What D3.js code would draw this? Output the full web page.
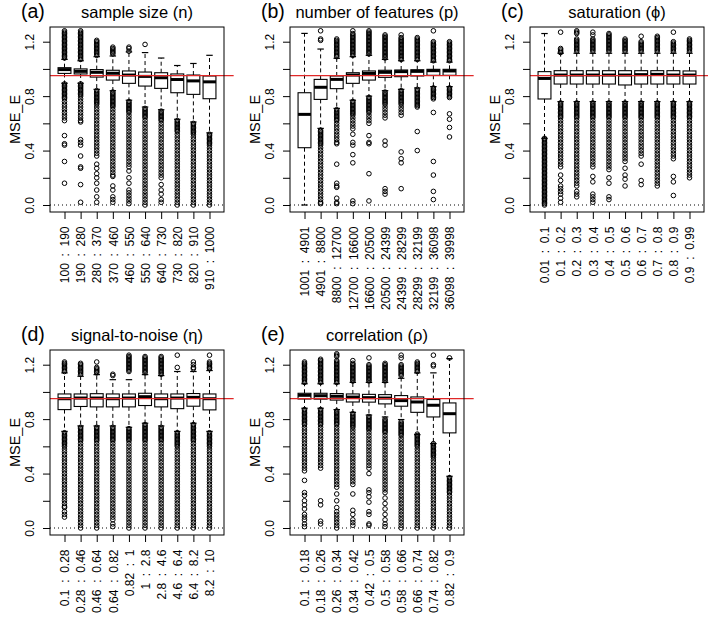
<!DOCTYPE html>
<html><head><meta charset="utf-8">
<script src="https://cdn.jsdelivr.net/npm/d3@7/dist/d3.min.js"></script>
<style>
body{margin:0;background:#fff}
svg{display:block}
text{font-family:"Liberation Sans",Arial,Helvetica,sans-serif}
</style>
</head><body>
<svg id="chart" width="708" height="622"></svg>
<script>
// ---------- DATA ----------
// Box statistics per box: [lower whisker, Q1, median, Q3, upper whisker]
// Outliers are listed in hundredths of MSE_E.
const aLabels = ["100 : 190","190 : 280","280 : 370","370 : 460","460 : 550","550 : 640","640 : 730","730 : 820","820 : 910","910 : 1000"];
const aStats = [[0.895,0.967,0.995,1.009,1.07],[0.895,0.963,0.982,1.0,1.06],[0.85,0.94,0.975,0.995,1.09],[0.84,0.918,0.968,0.99,1.095],[0.77,0.894,0.955,0.985,1.125],[0.72,0.874,0.945,0.977,1.12],[0.70,0.857,0.935,0.972,1.08],[0.63,0.825,0.922,0.963,1.025],[0.61,0.813,0.912,0.955,1.04],[0.53,0.781,0.905,0.948,1.10]];
const aOut = [
[128,127,126,125,124,123,122,121,120,119,118,117,116,115,114,113,112,111,110,109,108,89,88,87,86,85,84,83,82,81,80,79,78,76,74,72,70,68,66,64,62,51,45,44,32,16],
[128,127,126,125,124,123,122,121,120,119,118,117,116,115,114,113,112,111,110,109,108,107,89,88,87,86,85,84,83,82,81,80,78,76,74,72,70,68,66,64,62,61,48,46,44,36,28,27,15,2],
[121,120,119,118,117,116,115,114,113,112,111,110,84,83,82,81,80,79,78,77,76,75,74,72,70,68,66,64,62,60,58,56,54,52,50,48,46,44,42,40,38,36,30,27,23,20,16,11,6,2],
[116,115,114,113,112,111,83,82,81,80,79,78,77,76,75,74,73,72,70,68,66,64,62,60,58,56,54,52,50,48,46,44,42,40,38,36,34,32,30,28,26,24,22,21,14,11,6,4,2],
[116,115,113,76,75,74,73,72,71,70,69,68,66,64,62,60,58,56,54,52,50,48,46,44,42,40,38,36,34,32,30,28,25,20,16,11,9,7,5,3,1],
[118,71,70,69,68,67,66,65,64,62,60,58,56,54,52,50,48,46,44,42,40,38,36,34,32,30,28,26,24,22,20,18,16,14,12,10,8,6,4,2,0],
[69,68,67,66,65,64,63,62,60,58,56,54,52,50,48,46,44,42,40,38,36,34,32,30,28,26,24,22,20,15,11,8,4,2],
[62,61,60,59,58,57,56,55,54,52,50,48,46,44,42,40,38,36,34,32,30,28,26,24,22,20,18,16,14,12,10,8,6,4,2,0],
[60,59,58,57,56,55,54,53,52,50,48,46,44,42,40,38,36,34,32,30,28,26,24,22,20,18,16,14,12,10,8,6,4,2,0],
[52,51,50,49,48,47,46,45,44,42,40,38,36,34,32,30,28,26,24,22,20,18,16,14,12,10,8,6,4,2,0]];

const bLabels = ["1001 : 4901","4901 : 8800","8800 : 12700","12700 : 16600","16600 : 20500","20500 : 24399","24399 : 28299","28299 : 32199","32199 : 36098","36098 : 39998"];
const bStats = [[0.0,0.421,0.666,0.825,1.261],[0.563,0.776,0.865,0.923,1.146],[0.71,0.855,0.923,0.948,1.078],[0.77,0.894,0.955,0.972,1.09],[0.8,0.918,0.967,0.985,1.1],[0.84,0.938,0.975,0.99,1.07],[0.85,0.943,0.98,0.992,1.06],[0.86,0.948,0.982,0.994,1.06],[0.87,0.953,0.987,0.997,1.05],[0.87,0.953,0.985,0.997,1.05]];
const bOut = [
[],
[128,122,121,55,54,53,52,51,50,49,48,47,46,45,44,42,40,38,36,34,32,30,28,26,24,22,20,18,16,14,12,10,8,6,4,2,1],
[122,121,120,119,118,117,116,115,114,113,112,111,110,109,70,69,68,67,66,65,64,63,62,60,58,56,54,52,50,48,46,45,30,16,14,13,5,2,1],
[128,126,125,124,123,122,121,120,119,118,117,116,115,114,113,112,111,110,76,75,74,73,72,71,70,69,68,67,66,64,62,60,58,56,52,46,44,37,31,3,1],
[128,127,126,125,124,123,122,121,120,119,118,117,116,115,114,113,112,111,79,78,77,76,75,74,73,72,71,70,69,68,66,64,62,60,51,46,45,23,3],
[125,124,123,122,121,120,119,118,117,116,115,114,113,112,111,110,109,108,83,82,81,80,79,78,77,76,75,74,72,70,68,66,64,47,44,12,10,8],
[125,123,122,121,120,119,118,117,116,115,114,113,112,111,110,109,108,107,84,83,82,81,80,79,78,77,76,75,74,72,70,68,66,39,34,31,12],
[123,122,121,120,119,118,117,116,115,114,113,112,111,110,109,108,107,85,84,83,82,81,80,79,78,77,76,75,74,73,72,54,40],
[128,120,119,118,117,116,115,114,113,112,111,110,109,108,107,106,86,85,84,83,82,81,80,79,78,68,32,22,10,4],
[120,119,118,117,116,115,114,113,112,111,110,109,108,107,106,86,85,84,83,82,81,80,79,67,63,57,50]];

const cLabels = ["0.01 : 0.1","0.1 : 0.2","0.2 : 0.3","0.3 : 0.4","0.4 : 0.5","0.5 : 0.6","0.6 : 0.7","0.7 : 0.8","0.8 : 0.9","0.9 : 0.99"];
const cStats = [[0.49,0.779,0.93,0.98,1.26],[0.76,0.889,0.955,0.987,1.115],[0.76,0.889,0.955,0.987,1.115],[0.76,0.889,0.955,0.987,1.115],[0.76,0.889,0.955,0.987,1.115],[0.76,0.882,0.955,0.987,1.115],[0.76,0.889,0.958,0.987,1.115],[0.76,0.889,0.96,0.987,1.115],[0.76,0.889,0.955,0.987,1.115],[0.76,0.889,0.955,0.985,1.115]];
const cOut = [
[49,48,47,46,45,44,43,42,41,40,39,38,37,36,35,34,33,32,31,30,29,28,27,26,25,24,23,22,21,20,19,18,17,16,15,14,13,12,11,10,9,8,7,6,5,4,3,2,1,0],
[127,115,114,113,112,75,74,73,72,71,70,69,68,67,66,65,64,62,60,58,56,54,52,50,48,46,44,42,40,38,36,34,32,30,28,22,18,14,12,10,8,5,2],
[128,127,126,122,121,120,119,118,117,116,115,114,113,75,74,73,72,71,70,69,68,67,66,65,64,62,60,58,56,54,52,50,48,46,44,42,40,38,36,34,32,30,28,26,24,22,20,18,16,14,10,8,6],
[127,125,122,121,120,119,118,117,116,115,114,113,75,74,73,72,71,70,69,68,67,66,65,64,62,60,58,56,54,52,50,48,46,44,42,40,38,36,34,32,30,28,21,17,8,6,4,2],
[126,125,124,123,122,121,120,119,118,117,116,115,114,113,75,74,73,72,71,70,69,68,67,66,65,64,62,60,58,56,54,52,50,48,46,44,42,40,38,36,34,32,30,28,26,20,16,6,4],
[122,121,120,119,118,117,116,115,114,113,75,74,73,72,71,70,69,68,67,66,65,64,62,60,58,56,54,52,50,48,46,44,42,40,38,36,34,32,27,22,19,14],
[124,120,119,118,117,116,115,114,113,75,74,73,72,71,70,69,68,67,66,65,64,62,60,58,56,54,52,50,48,46,44,42,40,38,36,30,18,15],
[124,123,122,121,120,119,118,117,116,115,114,113,75,74,73,72,71,70,69,68,67,66,65,64,62,60,58,56,54,52,50,48,46,44,42,40,38,36,34,32,30,28,26,24,22,20,18,16,14],
[127,120,119,118,117,116,115,114,113,75,74,73,72,71,70,69,68,67,66,65,64,62,60,58,56,54,52,50,48,46,44,42,40,38,36,34,21,17,7],
[122,121,120,119,118,117,116,115,114,113,75,74,73,72,71,70,69,68,67,66,65,64,62,60,58,56,54,52,50,48,46,44,42,40,38,36,34,32,30,28,26,24,22,20]];

const dLabels = ["0.1 : 0.28","0.28 : 0.46","0.46 : 0.64","0.64 : 0.82","0.82 : 1","1 : 2.8","2.8 : 4.6","4.6 : 6.4","6.4 : 8.2","8.2 : 10"];
const dStats = [[0.71,0.87,0.95,0.985,1.14],[0.75,0.893,0.955,0.985,1.115],[0.75,0.89,0.955,0.987,1.127],[0.75,0.89,0.95,0.985,1.09],[0.74,0.89,0.955,0.985,1.09],[0.77,0.90,0.965,0.99,1.127],[0.75,0.89,0.95,0.985,1.12],[0.71,0.877,0.955,0.985,1.15],[0.77,0.895,0.96,0.988,1.15],[0.71,0.868,0.95,0.985,1.157]];
const dOut = [
[122,121,120,119,118,117,116,115,70,69,68,67,66,65,64,63,62,61,60,58,56,54,52,50,48,46,44,42,40,38,36,34,32,30,28,26,24,22,20,18,16,15,12,10,8],
[121,120,119,118,117,116,115,114,113,74,73,72,71,70,69,68,67,66,65,64,62,60,58,56,54,52,50,48,46,44,42,40,38,36,34,32,30,28,26,24,22,20,18,16,14,12,10,8,6,4,2,0],
[122,118,117,116,115,114,74,73,72,71,70,69,68,67,66,65,64,62,60,58,56,54,52,50,48,46,44,42,40,38,36,34,32,30,28,26,24,22,20,18,16,14,12,10,8,6,4,2,0],
[113,112,74,73,72,71,70,69,68,67,66,65,64,62,60,58,56,54,52,50,48,46,44,42,40,38,36,34,32,30,28,26,24,22,20,18,16,14,12,10,8,6,3,1],
[127,126,125,124,123,122,121,120,119,118,117,116,115,73,72,71,70,69,68,67,66,65,64,62,60,58,56,54,52,50,48,46,44,42,40,38,36,34,32,30,28,26,24,22,20,18,16,14,12,10,8,6,4,2,0],
[126,125,124,123,122,121,120,119,118,117,116,115,114,76,75,74,73,72,71,70,69,68,67,66,65,64,62,60,58,56,54,52,50,48,46,44,42,40,38,36,34,32,30,28,26,24,22,20,18,16,14,12,10,8,6,4,2,0],
[126,125,124,123,122,121,120,119,118,117,116,115,114,113,74,73,72,71,70,69,68,67,66,65,64,62,60,58,56,54,52,50,48,46,44,42,40,38,36,34,32,30,28,26,24,22,20,18,16,14,12,10,8,6,4,2,0],
[127,118,70,69,68,67,66,65,64,63,62,61,60,58,56,54,52,50,48,46,44,42,40,38,36,34,32,30,28,26,24,22,20,18,16,14,12,10,8,6,4,2,0],
[122,120,118,117,76,75,74,73,72,71,70,69,68,67,66,65,64,62,60,58,56,54,52,50,48,46,44,42,40,38,36,34,32,30,28,26,24,22,20,18,16,14,12,10,8,6,4,2,0],
[127,122,121,120,119,118,117,70,69,68,67,66,65,64,63,62,61,60,58,56,54,52,50,48,46,44,42,40,38,36,34,32,30,28,26,24,22,20,18,16,14,12,10,8,6,4,2,0]];

const eLabels = ["0.1 : 0.18","0.18 : 0.26","0.26 : 0.34","0.34 : 0.42","0.42 : 0.5","0.5 : 0.58","0.58 : 0.66","0.66 : 0.74","0.74 : 0.82","0.82 : 0.9"];
const eStats = [[0.88,0.948,0.975,0.99,1.06],[0.88,0.947,0.972,0.99,1.06],[0.87,0.94,0.968,0.988,1.06],[0.85,0.926,0.962,0.985,1.07],[0.83,0.925,0.958,0.982,1.07],[0.816,0.912,0.955,0.98,1.07],[0.797,0.895,0.936,0.973,1.10],[0.686,0.85,0.926,0.963,1.14],[0.62,0.816,0.902,0.944,1.14],[0.38,0.699,0.84,0.919,1.245]];
const eOut = [
[122,121,120,119,118,117,116,115,114,113,112,111,110,109,108,107,87,86,85,84,83,82,81,80,79,78,77,76,74,72,70,68,66,64,62,60,58,56,54,52,50,48,46,44,42,35,26,24,20,17,14,10,8,6,3,1],
[124,123,122,121,120,119,118,117,116,115,114,113,112,111,110,109,108,107,87,86,85,84,83,82,81,80,79,78,77,76,74,72,70,68,66,64,62,60,58,56,54,52,50,48,46,44,20,17,5,3],
[128,127,126,123,122,121,120,119,118,117,116,115,114,113,112,111,110,109,108,107,86,85,84,83,82,81,80,79,78,77,76,74,72,70,68,66,64,62,60,58,56,54,52,50,48,46,44,42,40,38,36,34,32,30,25,20,15,12,10,8,6,4,2,0],
[123,121,120,119,118,117,116,115,114,113,112,111,110,109,108,84,83,82,81,80,79,78,77,76,75,74,72,70,68,66,64,62,60,58,56,54,52,50,48,46,44,42,40,38,36,34,32,25,13,10,6,4,2],
[125,120,119,118,117,116,115,114,113,112,111,110,109,108,82,81,80,79,78,77,76,75,74,73,72,70,68,66,64,62,60,58,56,54,52,50,48,46,44,40,28,26,23,19,12,10,3,2],
[121,120,119,118,117,116,115,114,113,112,111,110,109,108,80,79,78,77,76,75,74,73,72,71,70,68,66,64,62,60,58,56,54,52,50,48,46,44,42,40,38,36,34,32,30,28,26,22,18,14,10,6,3,1],
[127,125,120,119,118,117,116,115,114,113,112,78,77,76,75,74,73,72,71,70,69,68,66,64,62,60,58,56,54,52,50,48,46,44,42,40,38,36,34,32,30,28,26,24,22,20,18,16,14,12,10,8,6,4,2,0],
[122,121,120,119,118,117,116,115,69,68,67,66,65,64,63,62,61,60,58,56,54,52,50,48,46,44,42,40,38,36,34,32,30,28,26,24,22,20,18,16,14,12,10,8,6,4,2,0],
[127,120,119,62,61,60,59,58,57,56,55,54,53,52,50,48,46,44,42,40,38,36,34,32,30,28,26,24,22,20,18,16,14,12,10,8,6,4,2,0],
[125,37,36,35,34,33,32,31,30,29,28,27,26,24,22,20,18,16,14,12,10,8,6,4,2,0]];

const yTicks = [0, 0.2, 0.4, 0.6, 0.8, 1.0, 1.2];
const yTickLabels = ["0.0", "", "0.4", "", "0.8", "", "1.2"];
const refLevel = 0.95;

// ---------- LAYOUT ----------
const panels = [
  {tag:"(a)", title:"sample size (n)", labels:aLabels, stats:aStats, out:aOut, left:50, top:27},
  {tag:"(b)", title:"number of features (p)", labels:bLabels, stats:bStats, out:bOut, left:290, top:27},
  {tag:"(c)", title:"saturation (\u03D5)", labels:cLabels, stats:cStats, out:cOut, left:530, top:27},
  {tag:"(d)", title:"signal-to-noise (\u03B7)", labels:dLabels, stats:dStats, out:dOut, left:50, top:350},
  {tag:"(e)", title:"correlation (\u03C1)", labels:eLabels, stats:eStats, out:eOut, left:290, top:350}
];
const W = 174, H = 185;
const svg = d3.select("#chart");
svg.append("rect").attr("width",708).attr("height",622).attr("fill","#fff");
const spaced = s => s.replace(" : ", "\u00A0\u00A0:\u00A0\u00A0");

panels.forEach(p => {
  const x = d3.scaleLinear().domain([0.1, 10.9]).range([p.left, p.left + W]);
  const y = d3.scaleLinear().domain([-0.0514, 1.308]).range([p.top + H, p.top]);
  const g = svg.append("g");
  const half = 0.4, stapleHalf = 0.2;

  p.stats.forEach((s, i) => {
    const k = i + 1, cx = x(k);
    const [lw, q1, md, q3, uw] = s;
    const bx = g.append("g");
    bx.append("line").attr("x1",cx).attr("x2",cx).attr("y1",y(q3)).attr("y2",y(uw))
      .attr("stroke","#000").attr("stroke-width",1).attr("stroke-dasharray","4,3");
    bx.append("line").attr("x1",cx).attr("x2",cx).attr("y1",y(q1)).attr("y2",y(lw))
      .attr("stroke","#000").attr("stroke-width",1).attr("stroke-dasharray","4,3");
    [lw, uw].forEach(v => {
      bx.append("line").attr("x1",x(k - stapleHalf)).attr("x2",x(k + stapleHalf))
        .attr("y1",y(v)).attr("y2",y(v)).attr("stroke","#000").attr("stroke-width",1.2);
    });
    bx.append("rect").attr("x",x(k - half)).attr("width",x(k + half) - x(k - half))
      .attr("y",y(q3)).attr("height",y(q1) - y(q3))
      .attr("fill","#fff").attr("stroke","#000").attr("stroke-width",1.1);
    bx.append("line").attr("x1",x(k - half)).attr("x2",x(k + half))
      .attr("y1",y(md)).attr("y2",y(md)).attr("stroke","#000").attr("stroke-width",3);
    bx.selectAll("circle").data(p.out[i]).join("circle")
      .attr("cx",cx).attr("cy",d => y(d / 100)).attr("r",2.3)
      .attr("fill","none").attr("stroke","#000").attr("stroke-width",1);
  });

  g.append("line").attr("x1",p.left).attr("x2",x(11.5))
    .attr("y1",y(refLevel)).attr("y2",y(refLevel)).attr("stroke","#e02828").attr("stroke-width",1.3);
  g.append("line").attr("x1",p.left).attr("x2",p.left + W)
    .attr("y1",y(0)).attr("y2",y(0)).attr("stroke","#000").attr("stroke-width",1).attr("stroke-dasharray","1,3");

  g.append("rect").attr("x",p.left).attr("y",p.top).attr("width",W).attr("height",H)
    .attr("fill","none").attr("stroke","#000").attr("stroke-width",1);

  const ya = g.append("g").attr("transform",`translate(${p.left},0)`)
    .call(d3.axisLeft(y).tickValues(yTicks).tickSize(7).tickFormat((d,i) => yTickLabels[i]));
  ya.select(".domain").remove();
  ya.attr("font-size",12).attr("font-family",null);
  ya.selectAll("line").attr("stroke","#000");
  ya.selectAll("text").attr("x",0).attr("y",0).attr("dy",null).attr("fill","#000")
    .attr("transform","translate(-16,0) rotate(-90)").style("text-anchor","middle");

  const xa = g.append("g").attr("transform",`translate(0,${p.top + H})`)
    .call(d3.axisBottom(x).tickValues(p.labels.map((_, i) => i + 1)).tickSize(7).tickFormat((d,i) => spaced(p.labels[i])));
  xa.select(".domain").remove();
  xa.attr("font-size",12).attr("font-family",null);
  xa.selectAll("line").attr("stroke","#000");
  xa.selectAll("text").attr("x",-14.5).attr("y",0).attr("dy","0.35em").attr("fill","#000")
    .attr("transform","rotate(-90)").style("text-anchor","end");

  g.append("text").attr("transform",`translate(${p.left - 30},${p.top + H / 2}) rotate(-90)`)
    .attr("text-anchor","middle").attr("font-size",14.5).text("MSE_E");

  g.append("text").attr("x",p.left + W / 2).attr("y",p.top - 9).attr("text-anchor","middle")
    .attr("font-size",16.5).text(p.title);
  g.append("text").attr("x",p.left - 29).attr("y",p.top - 9).attr("font-size",19.5).text(p.tag);
});
</script>
</body></html>
